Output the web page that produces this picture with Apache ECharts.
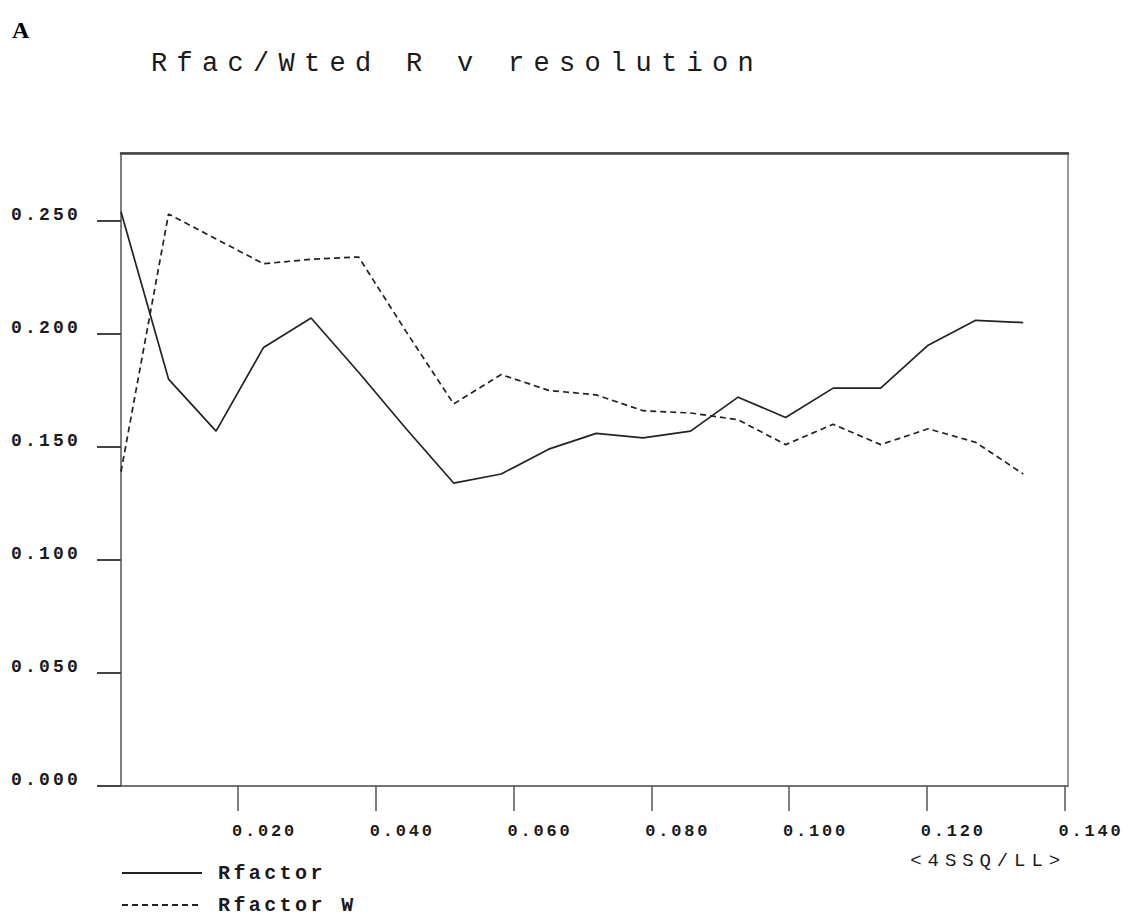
<!DOCTYPE html>
<html>
<head>
<meta charset="utf-8">
<script src="https://cdn.jsdelivr.net/npm/echarts@6/dist/echarts.min.js"></script>
<style>
  html, body { margin: 0; padding: 0; background: #fff; }
  #chart { width: 1133px; height: 918px; }
</style>
</head>
<body>
<div id="chart"></div>
<script>
// ---- data ----
const panelLabel = 'A';
const chartTitle = 'Rfac/Wted R v resolution';
const xAxisName = '<4SSQ/LL>';
const seriesNames = ['Rfactor', 'Rfactor W'];
const xValues = [0.0030, 0.0099, 0.0168, 0.0237, 0.0306, 0.0375, 0.0444, 0.0513, 0.0582, 0.0651,
                 0.0720, 0.0788, 0.0857, 0.0926, 0.0995, 0.1064, 0.1133, 0.1202, 0.1271, 0.1340];
const rfactor  = [0.254, 0.180, 0.157, 0.194, 0.207, 0.183, 0.158, 0.134, 0.138, 0.149,
                  0.156, 0.154, 0.157, 0.172, 0.163, 0.176, 0.176, 0.195, 0.206, 0.205];
const rfactorW = [0.139, 0.253, 0.242, 0.231, 0.233, 0.234, 0.201, 0.169, 0.182, 0.175,
                  0.173, 0.166, 0.165, 0.162, 0.151, 0.160, 0.151, 0.158, 0.152, 0.138];
const xTicks = [0.020, 0.040, 0.060, 0.080, 0.100, 0.120, 0.140];
const yTicks = [0.000, 0.050, 0.100, 0.150, 0.200, 0.250];
const xMin = 0.003, xMax = 0.1405, yMin = 0, yMax = 0.28;

// ---- chart ----
const chart = echarts.init(document.getElementById('chart'), null, { renderer: 'svg' });
const pairs = ys => xValues.map((x, i) => [x, ys[i]]);
const monoBold = { fontFamily: 'Liberation Mono', fontWeight: 'bold', color: '#1a1a1a' };

const option = {
  animation: false,
  backgroundColor: '#ffffff',
  title: [
    { text: panelLabel, left: 12, top: 18, padding: 0,
      textStyle: { fontFamily: 'Liberation Serif', fontWeight: 'bold', fontSize: 24, color: '#000' } },
    { text: chartTitle, left: 151, top: 50, padding: 0,
      textStyle: { fontFamily: 'Liberation Mono', fontWeight: 'normal', fontSize: 27, color: '#1a1a1a' } }
  ],
  legend: {
    data: seriesNames, orient: 'vertical', left: 121, top: 863, padding: 0,
    itemWidth: 80, itemHeight: 14, itemGap: 12, selectedMode: false,
    itemStyle: { opacity: 0 },
    textStyle: Object.assign({ fontSize: 20, padding: [0, 0, 0, 11] }, monoBold)
  },
  grid: { left: 121, right: 65, top: 153, bottom: 132, show: true,
          borderColor: '#777', borderWidth: 1.5, backgroundColor: 'transparent' },
  xAxis: [{
    type: 'value', min: xMin, max: xMax, position: 'bottom',
    name: xAxisName, nameLocation: 'end', nameGap: -2,
    nameTextStyle: { fontFamily: 'Liberation Mono', fontSize: 19, color: '#1a1a1a',
                     align: 'right', verticalAlign: 'top', padding: [65, 0, 0, 0] },
    axisLine: { show: true, onZero: false, lineStyle: { color: '#666', width: 1.5 } },
    axisTick: { show: true, inside: false, length: 25, customValues: xTicks,
                lineStyle: { color: '#555', width: 1.5 } },
    axisLabel: Object.assign({ customValues: xTicks, margin: 37, fontSize: 17, align: 'left',
                 padding: [0, 0, 0, -6], formatter: v => v.toFixed(3) }, monoBold),
    splitLine: { show: false }
  }, {
    type: 'value', min: xMin, max: xMax, position: 'top',
    axisLine: { show: true, onZero: false, lineStyle: { color: '#444', width: 2.5 } },
    axisTick: { show: false }, axisLabel: { show: false }, splitLine: { show: false }
  }],
  yAxis: {
    type: 'value', min: yMin, max: yMax,
    axisLine: { show: true, onZero: false, lineStyle: { color: '#777', width: 1.5 } },
    axisTick: { show: true, inside: false, length: 24, customValues: yTicks,
                lineStyle: { color: '#444', width: 2 } },
    axisLabel: Object.assign({ customValues: yTicks, margin: 40, fontSize: 18,
                 verticalAlign: 'bottom', lineHeight: 12,
                 formatter: v => v.toFixed(3) }, monoBold),
    splitLine: { show: false }
  },
  series: [
    { name: seriesNames[0], type: 'line', data: pairs(rfactor), symbol: 'circle', showSymbol: false,
      silent: true, lineStyle: { color: '#222', width: 1.7, type: 'solid' }, itemStyle: { color: '#222' } },
    { name: seriesNames[1], type: 'line', data: pairs(rfactorW), symbol: 'circle', showSymbol: false,
      silent: true, lineStyle: { color: '#222', width: 1.7, type: [6, 4] }, itemStyle: { color: '#222' } }
  ]
};
chart.setOption(option);

// letter spacing for the widely spaced plotter-style lettering
const SPACING = { 27: 9.3, 20: 3.4, 19: 5.9, 18: 3.2, 17: 2.8 };
function applySpacing() {
  document.querySelectorAll('#chart text').forEach(t => {
    const fs = Math.round(parseFloat(getComputedStyle(t).fontSize));
    if (SPACING[fs] !== undefined) t.style.letterSpacing = SPACING[fs] + 'px';
  });
}
try { chart.getZr().flush(); } catch (e) {}
applySpacing();
chart.on('finished', applySpacing);
setTimeout(applySpacing, 0);
setTimeout(applySpacing, 100);
requestAnimationFrame(applySpacing);
</script>
</body>
</html>
